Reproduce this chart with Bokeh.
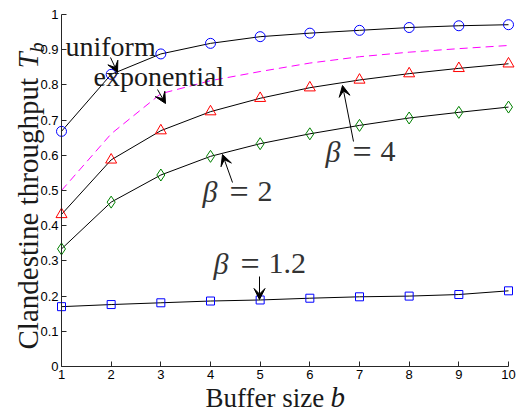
import numpy as np
from bokeh.plotting import figure
from bokeh.models import Range1d, FixedTicker, CustomJSTickFormatter, Label, Arrow, VeeHead
from bokeh.embed import file_html
from bokeh.resources import INLINE

# ---------------- data ----------------
buffer_size = [1, 2, 3, 4, 5, 6, 7, 8, 9, 10]
uniform = [0.668, 0.830, 0.888, 0.918, 0.937, 0.947, 0.955, 0.963, 0.968, 0.971]
exponential = [0.500, 0.661, 0.775, 0.812, 0.838, 0.862, 0.880, 0.893, 0.903, 0.912]
beta_4 = [0.432, 0.587, 0.670, 0.724, 0.762, 0.792, 0.814, 0.832, 0.847, 0.860]
beta_2 = [0.334, 0.467, 0.544, 0.597, 0.633, 0.661, 0.685, 0.706, 0.722, 0.737]
beta_1_2 = [0.170, 0.176, 0.181, 0.186, 0.189, 0.194, 0.198, 0.200, 0.2045, 0.215]
y_ticks = [0, 0.1, 0.2, 0.3, 0.4, 0.5, 0.6, 0.7, 0.8, 0.9, 1.0]

# ---------------- layout ----------------
# The frame covers the whole canvas; axes are pinned inside it so that
# markers at the range ends and the outside texts are not clipped.
W, H = 522, 413
AX_L, AX_R, AX_T, AX_B = 61, 508, 14, 366       # pixel box of the axes
SX = (AX_R - AX_L) / (10 - 1)                     # px per x unit
SY = (AX_B - AX_T) / (1 - 0)                      # px per y unit
X0 = 1 - AX_L / SX
X1 = X0 + W / SX
Y1 = 0 + AX_B / SY
Y0 = Y1 - H / SY


def dx(px):
    return X0 + px / SX


def dy(py):
    return Y1 - py / SY


p = figure(width=W, height=H, output_backend="svg", toolbar_location=None,
           x_range=Range1d(X0, X1), y_range=Range1d(Y0, Y1),
           min_border=0, min_border_left=0, min_border_right=0,
           min_border_top=0, min_border_bottom=0)
p.outline_line_color = None
p.grid.visible = False
p.background_fill_color = "white"
p.border_fill_color = "white"

for ax in (p.xaxis, p.yaxis):
    ax.major_tick_in = 5
    ax.major_tick_out = 0
    ax.minor_tick_line_color = None
    ax.axis_line_color = "#262626"
    ax.major_tick_line_color = "#262626"
    ax.major_label_text_font = "Liberation Sans"
    ax.major_label_text_font_size = "13px"
    ax.major_label_text_color = "black"
    ax.major_label_standoff = 3

p.xaxis.ticker = FixedTicker(ticks=buffer_size)
p.xaxis.bounds = (1, 10)
p.xaxis.fixed_location = 0
p.yaxis.ticker = FixedTicker(ticks=y_ticks)
p.yaxis.bounds = (0, 1)
p.yaxis.fixed_location = 1
p.yaxis.formatter = CustomJSTickFormatter(code="return String(Math.round(tick*10)/10);")

# ---------------- series ----------------
p.line(buffer_size, exponential, line_color="#ff00ff", line_width=1, line_dash="8 5")

p.line(buffer_size, uniform, line_color="black", line_width=1)
p.scatter(buffer_size, uniform, marker="circle", size=10, line_color="#0000ff",
          fill_color=None, line_width=1)

p.line(buffer_size, beta_4, line_color="black", line_width=1)
p.scatter(buffer_size, beta_4, marker="triangle", size=11, line_color="#ff0000",
          fill_color=None, line_width=1)

p.line(buffer_size, beta_2, line_color="black", line_width=1)
p.scatter(buffer_size, beta_2, marker="diamond", size=12, line_color="#008000",
          fill_color=None, line_width=1)

p.line(buffer_size, beta_1_2, line_color="black", line_width=1)
p.scatter(buffer_size, beta_1_2, marker="square", size=8, line_color="#0000ff",
          fill_color=None, line_width=1)

# ---------------- annotations ----------------
SERIF = "Liberation Serif"
TXT = "#1a1a1a"
CORR = 0.33   # baseline correction, in em


def label(px, py, text, size=28, style="normal", x_offset=0, color=TXT, angle=0):
    if angle == 0:
        x, y = dx(px), dy(py - CORR * size)
    else:
        x, y = dx(px - CORR * size), dy(py)
    p.add_layout(Label(x=x, y=y, text=text, text_font=SERIF,
                       text_font_size=f"{size}px", text_font_style=style,
                       text_color=color, text_baseline="alphabetic",
                       text_align="left", x_offset=x_offset,
                       angle=angle, angle_units="deg"))


def arrow(x0, y0, x1, y1):
    p.add_layout(Arrow(end=VeeHead(size=11, fill_color="black", line_color="black",
                                   line_width=1),
                       x_start=dx(x0), y_start=dy(y0), x_end=dx(x1), y_end=dy(y1),
                       line_color="black", line_width=1))


def beta_label(px, py, num):
    BC = "#333333"
    label(px, py, "β", size=30, style="italic", color=BC)
    label(px, py + 1, "=", size=34, x_offset=27, color=BC)
    label(px, py, num, size=30, x_offset=55, color=BC)


label(65, 55, "uniform")
label(93, 85, "exponential")
arrow(110, 57, 117, 72)
arrow(157, 89, 165, 103)

beta_label(325, 161, "4")
arrow(353, 141, 342, 85)

beta_label(202, 201, "2")
arrow(232, 182, 222, 154)

beta_label(213, 273, "1.2")
arrow(259, 276, 259, 299)

# axis titles
label(205, 406, "Buffer size", size=27)
label(330, 406, "b", size=29, style="italic")

label(37, 349, "Clandestine throughput", size=29, angle=90)
label(37, 68, "T", size=29, style="italic", angle=90)
label(43, 52, "b", size=20, style="italic", angle=90)

open("out.html", "w").write(file_html(p, INLINE))
